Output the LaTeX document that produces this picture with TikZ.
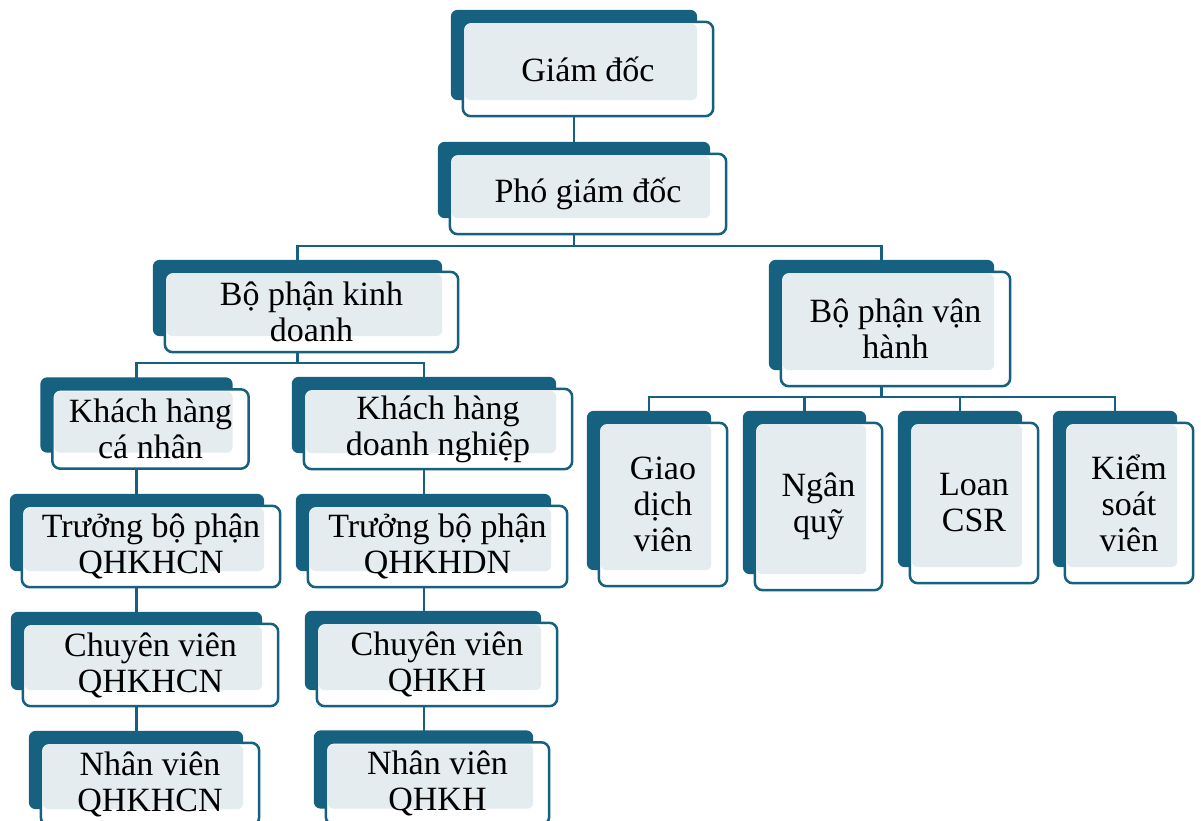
\documentclass[tikz,border=0pt]{standalone}
\usepackage{fontspec}
\setmainfont{Liberation Serif}
\usetikzlibrary{calc}
\definecolor{tealdark}{RGB}{22,96,128}
\definecolor{boxgrey}{RGB}{229,236,240}
\pgfdeclarelayer{lines}
\pgfdeclarelayer{boxes}
\pgfsetlayers{lines,boxes,main}
\tikzset{
  orgbox/.style={inner sep=0pt, align=center, text=black,
    font=\fontsize{34}{36}\selectfont},
  conn/.style={draw=tealdark, line width=2.5pt},
  backshape/.style={fill=tealdark, rounded corners=7pt},
  frontshape/.style={draw=tealdark, line width=2.5pt, fill=white, rounded corners=8pt},
  innershape/.style={fill=boxgrey, rounded corners=6pt}
}
\newcommand{\boxdeco}[1]{%
  \begin{pgfonlayer}{boxes}
    \fill[backshape] ($(#1.north west)+(-12,-12)$) rectangle ($(#1.south east)+(-16,-16)$);
    \filldraw[frontshape] (#1.north west) rectangle (#1.south east);
    \fill[innershape] ($(#1.north west)+(2,2)$) rectangle ($(#1.south east)+(-16,-16)$);
  \end{pgfonlayer}}
\begin{document}
\begin{tikzpicture}[x=1pt,y=-1pt]
\useasboundingbox (0,0) rectangle (1201,821);
% nodes
\node[orgbox, minimum width=250pt, minimum height=94pt] (gd) at (588,69) {Giám đốc};
\node[orgbox, minimum width=276pt, minimum height=80pt] (pgd) at (588,194) {Phó giám đốc};
\node[orgbox, minimum width=293pt, minimum height=80pt] (bpkd) at (311.5,312) {Bộ phận kinh\\doanh};
\node[orgbox, minimum width=229pt, minimum height=114pt] (bpvh) at (895.5,329) {Bộ phận vận\\hành};
\node[orgbox, minimum width=196pt, minimum height=79pt] (khcn) at (150.5,429) {Khách hàng\\cá nhân};
\node[orgbox, minimum width=268pt, minimum height=80pt] (khdn) at (438,429) {Khách hàng\\doanh nghiệp};
\node[orgbox, minimum width=258pt, minimum height=81pt] (tbpcn) at (151,546.5) {Trưởng bộ phận\\QHKHCN};
\node[orgbox, minimum width=259pt, minimum height=81pt] (tbpdn) at (437.5,546.5) {Trưởng bộ phận\\QHKHDN};
\node[orgbox, minimum width=255pt, minimum height=82pt] (cvcn) at (150.5,665) {Chuyên viên\\QHKHCN};
\node[orgbox, minimum width=240pt, minimum height=83pt] (cvkh) at (437,664.5) {Chuyên viên\\QHKH};
\node[orgbox, minimum width=218pt, minimum height=82pt] (nvcn) at (150,784) {Nhân viên\\QHKHCN};
\node[orgbox, minimum width=223pt, minimum height=82pt] (nvkh) at (437.5,783.5) {Nhân viên\\QHKH};
\node[orgbox, minimum width=128pt, minimum height=163pt] (gdv) at (663,504.5) {Giao\\dịch\\viên};
\node[orgbox, minimum width=127pt, minimum height=167pt] (nq) at (818.5,506.5) {Ngân\\quỹ};
\node[orgbox, minimum width=128pt, minimum height=160pt] (loan) at (974,503) {Loan\\CSR};
\node[orgbox, minimum width=128pt, minimum height=160pt] (ksv) at (1129,503) {Kiểm\\soát\\viên};
% box decorations
\foreach \n in {gd,pgd,bpkd,bpvh,khcn,khdn,tbpcn,tbpdn,cvcn,cvkh,nvcn,nvkh,gdv,nq,loan,ksv}{\boxdeco{\n}}
% connectors
\begin{pgfonlayer}{lines}
\draw[conn] ($(gd.south)+(-14,0)$) -- ($(pgd.north)+(-14,0)$);
\draw[conn] ($(pgd.south)+(-14,0)$) -- ++(0,12) -| ($(bpkd.north)+(-14,0)$);
\draw[conn] ($(pgd.south)+(-14,0)$) -- ++(0,12) -| ($(bpvh.north)+(-14,0)$);
\draw[conn] ($(bpkd.south)+(-14,0)$) -- ++(0,11) -| ($(khcn.north)+(-14,0)$);
\draw[conn] ($(bpkd.south)+(-14,0)$) -- ++(0,11) -| ($(khdn.north)+(-14,0)$);
\draw[conn] ($(khcn.south)+(-14,0)$) coordinate (c1) -- (c1 |- tbpcn.north);
\draw[conn] (c1 |- tbpcn.south) -- (c1 |- cvcn.north);
\draw[conn] (c1 |- cvcn.south) -- (c1 |- nvcn.north);
\draw[conn] ($(khdn.south)+(-14,0)$) coordinate (c2) -- (c2 |- tbpdn.north);
\draw[conn] (c2 |- tbpdn.south) -- (c2 |- cvkh.north);
\draw[conn] (c2 |- cvkh.south) -- (c2 |- nvkh.north);
\draw[conn] ($(bpvh.south)+(-14,0)$) -- ++(0,11) -| ($(gdv.north)+(-14,0)$);
\draw[conn] ($(bpvh.south)+(-14,0)$) -- ++(0,11) -| ($(nq.north)+(-14,0)$);
\draw[conn] ($(bpvh.south)+(-14,0)$) -- ++(0,11) -| ($(loan.north)+(-14,0)$);
\draw[conn] ($(bpvh.south)+(-14,0)$) -- ++(0,11) -| ($(ksv.north)+(-14,0)$);
\end{pgfonlayer}
\end{tikzpicture}
\end{document}
